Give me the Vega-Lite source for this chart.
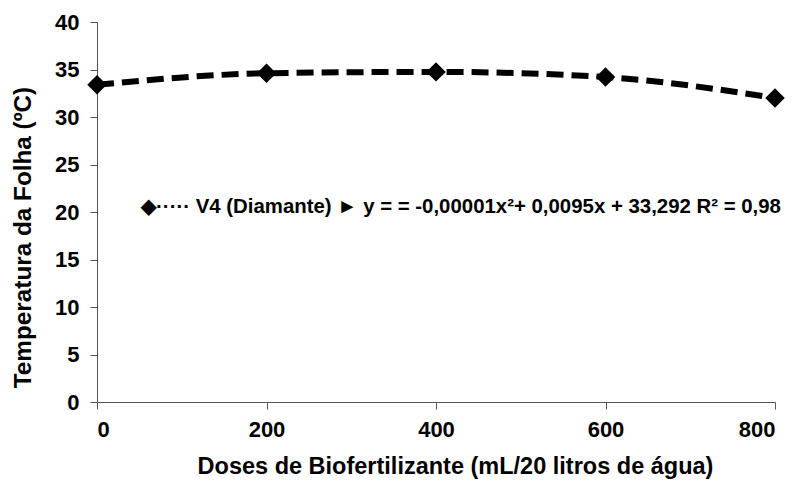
{
  "$schema": "https://vega.github.io/schema/vega-lite/v6.json",
  "autosize": "none",
  "width": 678,
  "height": 380,
  "padding": {"left": 97, "top": 22, "right": 25, "bottom": 79},
  "background": "white",
  "config": {"view": {"stroke": null}},
  "datasets": {
    "pts": [
      {"dose": 0, "temp": 33.4},
      {"dose": 200, "temp": 34.6},
      {"dose": 400, "temp": 34.75},
      {"dose": 600, "temp": 34.2},
      {"dose": 800, "temp": 32.0}
    ],
    "label": [
      {"dose": 52, "temp": 20.5, "txt": "◆····· V4 (Diamante) ► y = = -0,00001x²+ 0,0095x + 33,292  R² = 0,98"}
    ]
  },
  "layer": [
    {
      "data": {"name": "pts"},
      "mark": {"type": "line", "interpolate": "monotone", "color": "black", "strokeWidth": 6, "strokeDash": [17, 8]},
      "encoding": {
        "x": {"field": "dose", "type": "quantitative", "scale": {"domain": [0, 800]},
          "axis": {"values": [0, 200, 400, 600, 800], "title": "Doses de Biofertilizante (mL/20 litros de água)",
            "labelFont": "Liberation Sans", "labelFontSize": 22, "labelFontWeight": "bold", "labelColor": "black",
            "titleFont": "Liberation Sans", "titleFontSize": 23.5, "titleFontWeight": "bold", "titleColor": "black",
            "titleX": 358,
            "grid": false, "domainColor": "#555", "tickColor": "#555", "tickSize": 7, "labelPadding": 10, "titlePadding": 14}},
        "y": {"field": "temp", "type": "quantitative", "scale": {"domain": [0, 40]},
          "axis": {"values": [0, 5, 10, 15, 20, 25, 30, 35, 40], "title": "Temperatura da Folha (ºC)",
            "labelFont": "Liberation Sans", "labelFontSize": 22, "labelFontWeight": "bold", "labelColor": "black",
            "titleFont": "Liberation Sans", "titleFontSize": 24.3, "titleFontWeight": "bold", "titleColor": "black",
            "titleY": 215,
            "grid": false, "domainColor": "#555", "tickColor": "#555", "tickSize": 7, "labelPadding": 11, "titlePadding": 19}}
      }
    },
    {
      "data": {"name": "pts"},
      "mark": {"type": "point", "shape": "diamond", "filled": true, "color": "black", "size": 380, "opacity": 1},
      "encoding": {
        "x": {"field": "dose", "type": "quantitative"},
        "y": {"field": "temp", "type": "quantitative"}
      }
    },
    {
      "data": {"name": "label"},
      "mark": {"type": "text", "align": "left", "baseline": "middle", "font": "Liberation Sans", "fontSize": 20.4, "fontWeight": "bold", "color": "black"},
      "encoding": {
        "x": {"field": "dose", "type": "quantitative"},
        "y": {"field": "temp", "type": "quantitative"},
        "text": {"field": "txt"}
      }
    }
  ]
}
